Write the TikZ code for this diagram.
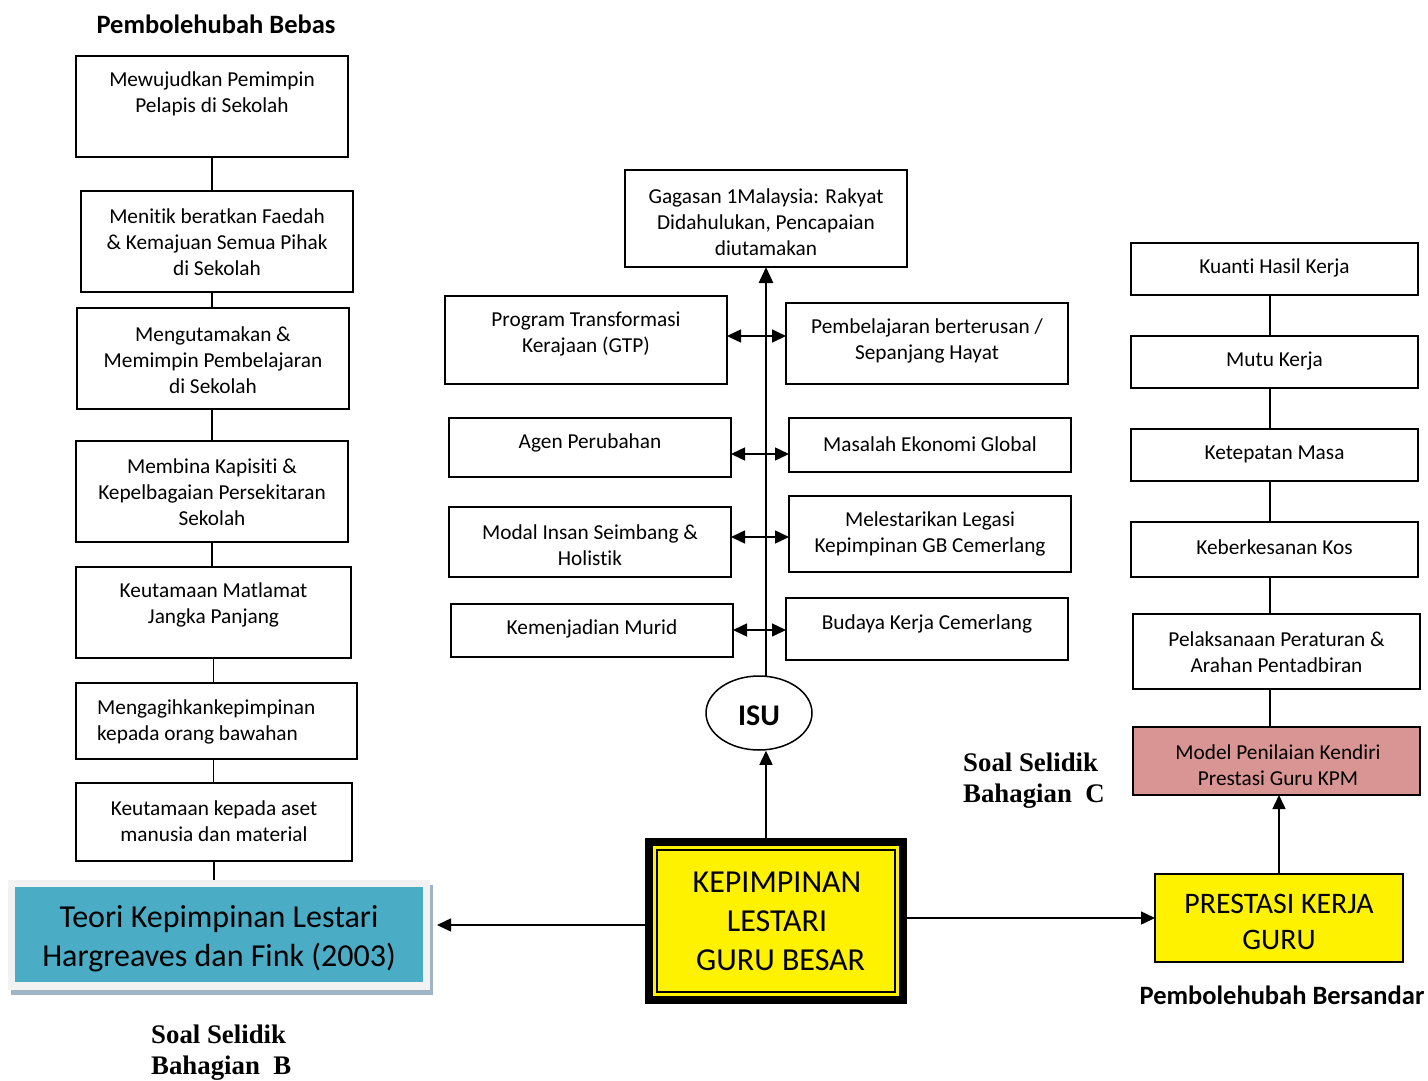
\documentclass[tikz,border=0pt]{standalone}
\usepackage{fontspec}
\setmainfont{Carlito}[Ligatures=CommonOff]
\newfontfamily\timesb{Liberation Serif}
\usetikzlibrary{arrows.meta,shapes.geometric,calc}
\definecolor{teal1}{HTML}{4BACC6}
\definecolor{pink1}{HTML}{D99594}
\definecolor{frame1}{HTML}{F2F2F2}
\definecolor{shadow1}{HTML}{9FB4C4}
\begin{document}
\begin{tikzpicture}[x=1pt,y=-1pt,
  box/.style={draw=black,line width=1.5pt,fill=white,inner sep=0pt,outer sep=0pt},
  txt/.style={inner sep=0pt,align=center,yshift=-1pt,font=\fontsize{21.3}{26}\selectfont},
  bigtxt/.style={inner sep=0pt,align=center,yshift=-2pt,font=\fontsize{32}{39}\selectfont},
  ttl/.style={inner sep=0pt,font=\bfseries\fontsize{26.5}{30}\selectfont},
  soal/.style={inner sep=0pt,align=left,yshift=-2pt,font=\timesb\bfseries\fontsize{26.8}{31}\selectfont},
  lnk/.style={line width=1.5pt},
  arr/.style={line width=1.5pt,-{Triangle[length=14pt,width=13pt]}},
  darr/.style={line width=1.5pt,{Triangle[length=14pt,width=13pt]}-{Triangle[length=14pt,width=13pt]}}
]
\useasboundingbox[fill=white] (0,0) rectangle (1428,1081);

% ---------- left column ----------
\node[ttl] (ttlA) at (216,24) {Pembolehubah Bebas};
\node[box,minimum width=272,minimum height=101] (b1) at (212,106.5) {};
\node[txt] (t1) at (212,93) {Mewujudkan Pemimpin\\Pelapis di Sekolah};
\node[box,minimum width=272,minimum height=101] (b2) at (217,241.5) {};
\node[txt] (t2) at (217,241) {Menitik beratkan Faedah\\\& Kemajuan Semua Pihak\\di Sekolah};
\node[box,minimum width=272,minimum height=101] (b3) at (213,358.5) {};
\node[txt] (t3) at (213,359) {Mengutamakan \&\\Memimpin Pembelajaran\\di Sekolah};
\node[box,minimum width=272,minimum height=101] (b4) at (212,491.5) {};
\node[txt] (t4) at (212,491) {Membina Kapisiti \&\\Kepelbagaian Persekitaran\\Sekolah};
\node[box,minimum width=275,minimum height=91] (b5) at (213.5,612.5) {};
\node[txt] (t5) at (213.5,604) {Keutamaan Matlamat\\Jangka Panjang};
\node[box,minimum width=281,minimum height=76] (b6) at (216.5,721) {};
\node[txt,align=left,anchor=west] (t6) at (97,721) {Mengagihkankepimpinan\\kepada orang bawahan};
\node[box,minimum width=276,minimum height=78] (b7) at (214,822) {};
\node[txt] (t7) at (214,820) {Keutamaan kepada aset\\manusia dan material};

\draw[lnk] (b1.south) -- (b1.south |- b2.north);
\draw[lnk] (b3.north -| b4.north) -- (b2.south -| b4.north);
\draw[lnk] (b3.south -| b4.north) -- (b4.north);
\draw[lnk] (b4.south) -- (b4.south |- b5.north);
\draw[lnk] (b5.south) -- (b5.south |- b6.north);
\draw[lnk] (b6.south -| b5.south) -- (b5.south |- b7.north);

% Teori box
\fill[shadow1] (11,885) rectangle (433,995);
\node[fill=frame1,minimum width=422,minimum height=110,inner sep=0pt,outer sep=0pt] (teoriframe) at (219,935) {};
\node[fill=teal1,minimum width=408,minimum height=95,inner sep=0pt,outer sep=0pt] (teori) at (219,934.5) {};
\node[bigtxt] (tteori) at (219,936.5) {Teori Kepimpinan Lestari\\Hargreaves dan Fink (2003)};
\draw[lnk] (b7.south) -- (b7.south |- teoriframe.north);

\node[soal] (soalB) at (151,1050.5) [anchor=west] {Soal Selidik\\Bahagian~~B};

% ---------- centre ----------
\node[box,minimum width=282,minimum height=97] (gag) at (766,218.5) {};
\node[txt] (tgag) at (766,221) {Gagasan 1Malaysia: Rakyat\\Didahulukan, Pencapaian\\diutamakan};

\node[box,minimum width=282,minimum height=88] (prog) at (586,340) {};
\node[txt] (tprog) at (586,333) {Program Transformasi\\Kerajaan (GTP)};
\node[box,minimum width=282,minimum height=59] (agen) at (590,447.5) {};
\node[txt] (tagen) at (590,442) {Agen Perubahan};
\node[box,minimum width=282,minimum height=70] (modal) at (590,542) {};
\node[txt] (tmodal) at (590,544) {Modal Insan Seimbang \&\\Holistik};
\node[box,minimum width=282,minimum height=53] (kem) at (592,630.5) {};
\node[txt] (tkem) at (592,628) {Kemenjadian Murid};

\node[box,minimum width=282,minimum height=81] (pemb) at (927,343.5) {};
\node[txt] (tpemb) at (927,340) {Pembelajaran berterusan /\\Sepanjang Hayat};
\node[box,minimum width=282,minimum height=54] (masal) at (930,445) {};
\node[txt] (tmasal) at (930,443) {Masalah Ekonomi Global};
\node[box,minimum width=282,minimum height=76] (melest) at (930,534) {};
\node[txt] (tmelest) at (930,533) {Melestarikan Legasi\\Kepimpinan GB Cemerlang};
\node[box,minimum width=282,minimum height=62] (budaya) at (927,629) {};
\node[txt] (tbudaya) at (927,623) {Budaya Kerja Cemerlang};

\node[draw=black,line width=1.5pt,ellipse,minimum width=106,minimum height=74,inner sep=0pt] (isu) at (759,713) {};
\node[inner sep=0pt,font=\bfseries\fontsize{30}{36}\selectfont] (tisu) at (759,716) {ISU};

\draw[line width=2.8pt,-{Triangle[length=16pt,width=14pt]}] (gag.south |- 0,677) -- (gag.south);

\draw[darr] (prog.east |- 0,336) -- (pemb.west |- 0,336);
\draw[darr] (agen.east |- 0,454) -- (masal.west |- 0,454);
\draw[darr] (modal.east |- 0,537) -- (melest.west |- 0,537);
\draw[darr] (kem.east |- 0,630) -- (budaya.west |- 0,630);

% KEPIMPINAN box
\node[draw=black,fill=yellow,line width=8pt,minimum width=254,minimum height=158,inner sep=0pt] (kep) at (776,921) {};
\draw[line width=2pt] ([shift={(12,12)}]kep.north west) rectangle ([shift={(-12,-12)}]kep.south east);
\node[bigtxt,yshift=1pt] (tkep) at (777,920) {KEPIMPINAN\\LESTARI\\\ GURU BESAR};

\draw[arr] (gag.south |- kep.north) -- (gag.south |- isu.south);
\coordinate (teoritip) at ($(teoriframe.east |- 0,925)+(7,0)$);
\draw[arr] (kep.west |- 0,925) -- (teoritip);

\node[soal] (soalC) at (963,778.5) [anchor=west] {Soal Selidik\\Bahagian~~C};

% ---------- right column ----------
\node[box,minimum width=287,minimum height=52] (k1) at (1274.5,269) {};
\node[txt] (tk1) at (1274.5,267) {Kuanti Hasil Kerja};
\node[box,minimum width=287,minimum height=52] (k2) at (1274.5,362) {};
\node[txt] (tk2) at (1274.5,360) {Mutu Kerja};
\node[box,minimum width=287,minimum height=52] (k3) at (1274.5,455) {};
\node[txt] (tk3) at (1274.5,453) {Ketepatan Masa};
\node[box,minimum width=287,minimum height=55] (k4) at (1274.5,549.5) {};
\node[txt] (tk4) at (1274.5,546) {Keberkesanan Kos};
\node[box,minimum width=287,minimum height=75] (k5) at (1276.5,651.5) {};
\node[txt] (tk5) at (1276.5,651) {Pelaksanaan Peraturan \&\\Arahan Pentadbiran};
\node[box,fill=pink1,minimum width=287,minimum height=68] (model) at (1276.5,761) {};
\node[txt] (tmodel) at (1278,764) {Model Penilaian Kendiri\\Prestasi Guru KPM};

\draw[lnk] (k1.south -| 1270,0) -- (k2.north -| 1270,0);
\draw[lnk] (k2.south -| 1270,0) -- (k3.north -| 1270,0);
\draw[lnk] (k3.south -| 1270,0) -- (k4.north -| 1270,0);
\draw[lnk] (k4.south -| 1270,0) -- (k5.north -| 1270,0);
\draw[lnk] (k5.south -| 1270,0) -- (model.north -| 1270,0);

\node[box,fill=yellow,minimum width=248,minimum height=88] (pres) at (1279,918) {};
\node[inner sep=0pt,align=center,yshift=-1pt,font=\fontsize{29.8}{36}\selectfont] (tpres) at (1279,921) {PRESTASI KERJA\\GURU};

\draw[arr] (pres.north) -- (pres.north |- model.south);
\draw[arr] (kep.east |- pres.west) -- (pres.west);

\node[ttl] (ttlB) at (1282,995) {Pembolehubah Bersandar};
\end{tikzpicture}
\end{document}
